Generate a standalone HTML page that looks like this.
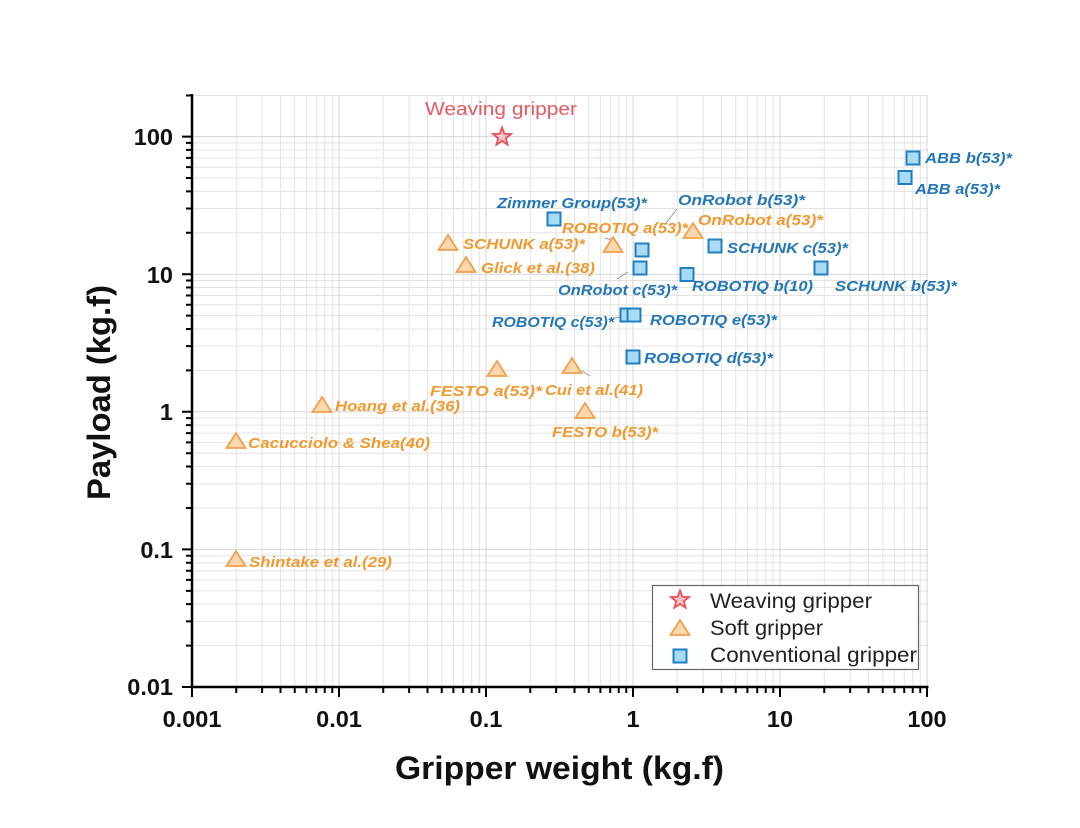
<!DOCTYPE html>
<html><head><meta charset="utf-8"><style>
html,body{margin:0;padding:0;background:#fff;}
svg{display:block;}
.lb{font-family:"Liberation Sans",Arial,sans-serif;font-style:italic;font-weight:bold;font-size:15px;}
.bl{fill:#2477b6;}
.or{fill:#f0992f;}
.tk{font-family:"Liberation Sans",Arial,sans-serif;font-weight:bold;font-size:23.5px;fill:#111;}
</style></head><body>
<svg width="1080" height="828" viewBox="0 0 1080 828" xmlns="http://www.w3.org/2000/svg">
<rect width="1080" height="828" fill="#fff"/>
<!-- grid -->
<g stroke="#e3e3e3" stroke-width="1" fill="none">
<path d="M236.25 95V687M262.14 95V687M280.5 95V687M294.75 95V687M306.39 95V687M316.23 95V687M324.75 95V687M332.27 95V687
M383.25 95V687M409.14 95V687M427.5 95V687M441.75 95V687M453.39 95V687M463.23 95V687M471.75 95V687M479.27 95V687
M530.25 95V687M556.14 95V687M574.5 95V687M588.75 95V687M600.39 95V687M610.23 95V687M618.75 95V687M626.27 95V687
M677.25 95V687M703.14 95V687M721.5 95V687M735.75 95V687M747.39 95V687M757.23 95V687M765.75 95V687M773.27 95V687
M824.25 95V687M850.14 95V687M868.5 95V687M882.75 95V687M894.39 95V687M904.23 95V687M912.75 95V687M920.27 95V687"/>
<path d="M192 645.58H928M192 621.35H928M192 604.16H928M192 590.82H928M192 579.93H928M192 570.71H928M192 562.73H928M192 555.7H928
M192 507.98H928M192 483.75H928M192 466.56H928M192 453.22H928M192 442.33H928M192 433.11H928M192 425.13H928M192 418.1H928
M192 370.38H928M192 346.15H928M192 328.96H928M192 315.62H928M192 304.73H928M192 295.51H928M192 287.53H928M192 280.5H928
M192 232.78H928M192 208.55H928M192 191.36H928M192 178.02H928M192 167.13H928M192 157.91H928M192 149.93H928M192 142.9H928
M192 95.5H928"/>
</g>
<g stroke="#d6d6d6" stroke-width="1" fill="none">
<path d="M339 95V687M486 95V687M633 95V687M780 95V687M927 95V687M192 549.4H928M192 411.8H928M192 274.2H928M192 136.6H928"/>
</g>
<!-- axes -->
<g stroke="#000" fill="none">
<path d="M192 94V688.2M190.8 687H928.5" stroke-width="2.5"/>
<path stroke-width="2" d="M182 687H192M182 549.4H192M182 411.8H192M182 274.2H192M182 136.6H192
M186 645.58H192M186 621.35H192M186 604.16H192M186 590.82H192M186 579.93H192M186 570.71H192M186 562.73H192M186 555.7H192
M186 507.98H192M186 483.75H192M186 466.56H192M186 453.22H192M186 442.33H192M186 433.11H192M186 425.13H192M186 418.1H192
M186 370.38H192M186 346.15H192M186 328.96H192M186 315.62H192M186 304.73H192M186 295.51H192M186 287.53H192M186 280.5H192
M186 232.78H192M186 208.55H192M186 191.36H192M186 178.02H192M186 167.13H192M186 157.91H192M186 149.93H192M186 142.9H192
M186 95.5H192"/>
<path stroke-width="2" d="M192 687V697M339 687V697M486 687V697M633 687V697M780 687V697M927 687V697
M236.25 687V693M262.14 687V693M280.5 687V693M294.75 687V693M306.39 687V693M316.23 687V693M324.75 687V693M332.27 687V693
M383.25 687V693M409.14 687V693M427.5 687V693M441.75 687V693M453.39 687V693M463.23 687V693M471.75 687V693M479.27 687V693
M530.25 687V693M556.14 687V693M574.5 687V693M588.75 687V693M600.39 687V693M610.23 687V693M618.75 687V693M626.27 687V693
M677.25 687V693M703.14 687V693M721.5 687V693M735.75 687V693M747.39 687V693M757.23 687V693M765.75 687V693M773.27 687V693
M824.25 687V693M850.14 687V693M868.5 687V693M882.75 687V693M894.39 687V693M904.23 687V693M912.75 687V693M920.27 687V693"/>
</g>
<!-- tick labels -->
<g class="tk" text-anchor="end">
<text x="173" y="145">100</text>
<text x="173" y="283">10</text>
<text x="173" y="420">1</text>
<text x="173" y="558">0.1</text>
<text x="173" y="695">0.01</text>
</g>
<g class="tk" text-anchor="middle">
<text x="192" y="727">0.001</text>
<text x="339" y="727">0.01</text>
<text x="486" y="727">0.1</text>
<text x="633" y="727">1</text>
<text x="780" y="727">10</text>
<text x="927" y="727">100</text>
</g>
<!-- axis titles -->
<text x="395" y="779" font-family="Liberation Sans, Arial, sans-serif" font-weight="bold" font-size="32" fill="#111" textLength="329" lengthAdjust="spacingAndGlyphs">Gripper weight (kg.f)</text>
<text transform="translate(110,392.5) rotate(-90)" text-anchor="middle" font-family="Liberation Sans, Arial, sans-serif" font-weight="bold" font-size="32" fill="#111" textLength="215" lengthAdjust="spacingAndGlyphs">Payload (kg.f)</text>
<!-- leader lines -->
<g stroke="#9a9a9a" stroke-width="1" fill="none">
<path d="M677 209L666 223M617 279L628 272M613 318L621 317M582 371L590 376M605 238L612 240"/>
</g>
<!-- squares -->
<g fill="#a9dcf4" stroke="#1f7fc1" stroke-width="2">
<rect x="906.5" y="151.5" width="13" height="13"/>
<rect x="898.5" y="171" width="13" height="13"/>
<rect x="547.5" y="212.5" width="13" height="13"/>
<rect x="635.5" y="243.5" width="13" height="13"/>
<rect x="708.5" y="239.5" width="13" height="13"/>
<rect x="633.5" y="261.5" width="13" height="13"/>
<rect x="680.5" y="268" width="13" height="13"/>
<rect x="814.5" y="261.5" width="13" height="13"/>
<rect x="620.5" y="308.5" width="13" height="13"/>
<rect x="627.5" y="308.5" width="13" height="13"/>
<rect x="626.5" y="350.5" width="13" height="13"/>
</g>
<!-- triangles -->
<g fill="#fbd7ad" stroke="#f1a04e" stroke-width="1.8" stroke-linejoin="miter">
<polygon transform="translate(693,231)" points="0,-8 9.5,7 -9.5,7"/>
<polygon transform="translate(613,245)" points="0,-8 9.5,7 -9.5,7"/>
<polygon transform="translate(448,243)" points="0,-8 9.5,7 -9.5,7"/>
<polygon transform="translate(466,265)" points="0,-8 9.5,7 -9.5,7"/>
<polygon transform="translate(497,369)" points="0,-8 9.5,7 -9.5,7"/>
<polygon transform="translate(572,366)" points="0,-8 9.5,7 -9.5,7"/>
<polygon transform="translate(585,411)" points="0,-8 9.5,7 -9.5,7"/>
<polygon transform="translate(322,405)" points="0,-8 9.5,7 -9.5,7"/>
<polygon transform="translate(236,441)" points="0,-8 9.5,7 -9.5,7"/>
<polygon transform="translate(236,559)" points="0,-8 9.5,7 -9.5,7"/>
</g>
<!-- star -->
<polygon transform="translate(502,137)" fill="#f8c3c6" stroke="#e8505b" stroke-width="1.8" points="0,-9.5 2.35,-3.24 9.04,-2.94 3.8,1.24 5.58,7.69 0,4 -5.58,7.69 -3.8,1.24 -9.04,-2.94 -2.35,-3.24"/>
<text x="425" y="115" font-family="Liberation Sans, Arial, sans-serif" font-size="18" fill="#e65862" textLength="152" lengthAdjust="spacingAndGlyphs">Weaving gripper</text>
<!-- labels -->
<g class="lb">
<text class="bl" x="925" y="163" textLength="87" lengthAdjust="spacingAndGlyphs">ABB b(53)*</text>
<text class="bl" x="915" y="194" textLength="85" lengthAdjust="spacingAndGlyphs">ABB a(53)*</text>
<text class="bl" x="497" y="208" textLength="150" lengthAdjust="spacingAndGlyphs">Zimmer Group(53)*</text>
<text class="bl" x="678" y="205" textLength="127" lengthAdjust="spacingAndGlyphs">OnRobot b(53)*</text>
<text class="or" x="698" y="225" textLength="125" lengthAdjust="spacingAndGlyphs">OnRobot a(53)*</text>
<text class="or" x="562" y="233" textLength="126" lengthAdjust="spacingAndGlyphs">ROBOTIQ a(53)*</text>
<text class="or" x="463" y="249" textLength="122" lengthAdjust="spacingAndGlyphs">SCHUNK a(53)*</text>
<text class="bl" x="727" y="253" textLength="121" lengthAdjust="spacingAndGlyphs">SCHUNK c(53)*</text>
<text class="or" x="481" y="273" textLength="114" lengthAdjust="spacingAndGlyphs">Glick et al.(38)</text>
<text class="bl" x="558" y="295" textLength="119" lengthAdjust="spacingAndGlyphs">OnRobot c(53)*</text>
<text class="bl" x="692" y="291" textLength="121" lengthAdjust="spacingAndGlyphs">ROBOTIQ b(10)</text>
<text class="bl" x="835" y="291" textLength="122" lengthAdjust="spacingAndGlyphs">SCHUNK b(53)*</text>
<text class="bl" x="492" y="327" textLength="122" lengthAdjust="spacingAndGlyphs">ROBOTIQ c(53)*</text>
<text class="bl" x="650" y="325" textLength="127" lengthAdjust="spacingAndGlyphs">ROBOTIQ e(53)*</text>
<text class="bl" x="644" y="363" textLength="129" lengthAdjust="spacingAndGlyphs">ROBOTIQ d(53)*</text>
<text class="or" x="430" y="396" textLength="112" lengthAdjust="spacingAndGlyphs">FESTO a(53)*</text>
<text class="or" x="545" y="395" textLength="98" lengthAdjust="spacingAndGlyphs">Cui et al.(41)</text>
<text class="or" x="335" y="411" textLength="125" lengthAdjust="spacingAndGlyphs">Hoang et al.(36)</text>
<text class="or" x="552" y="437" textLength="106" lengthAdjust="spacingAndGlyphs">FESTO b(53)*</text>
<text class="or" x="248" y="448" textLength="182" lengthAdjust="spacingAndGlyphs">Cacucciolo &amp; Shea(40)</text>
<text class="or" x="249" y="567" textLength="143" lengthAdjust="spacingAndGlyphs">Shintake et al.(29)</text>
</g>
<!-- legend -->
<rect x="652.5" y="585.5" width="266" height="84" fill="#fff" stroke="#666" stroke-width="1.2"/>
<polygon transform="translate(680,600)" fill="#f8c3c6" stroke="#e8505b" stroke-width="1.8" points="0,-9.5 2.35,-3.24 9.04,-2.94 3.8,1.24 5.58,7.69 0,4 -5.58,7.69 -3.8,1.24 -9.04,-2.94 -2.35,-3.24"/>
<polygon transform="translate(680,628)" fill="#fbd7ad" stroke="#f1a04e" stroke-width="1.8" points="0,-8 9.5,7 -9.5,7"/>
<rect x="673.5" y="649.5" width="13" height="13" fill="#a9dcf4" stroke="#1f7fc1" stroke-width="2"/>
<g font-family="Liberation Sans, Arial, sans-serif" font-size="21" fill="#222">
<text x="710" y="608" textLength="162" lengthAdjust="spacingAndGlyphs">Weaving gripper</text>
<text x="710" y="635" textLength="113" lengthAdjust="spacingAndGlyphs">Soft gripper</text>
<text x="710" y="662" textLength="207" lengthAdjust="spacingAndGlyphs">Conventional gripper</text>
</g>
</svg>
</body></html>
